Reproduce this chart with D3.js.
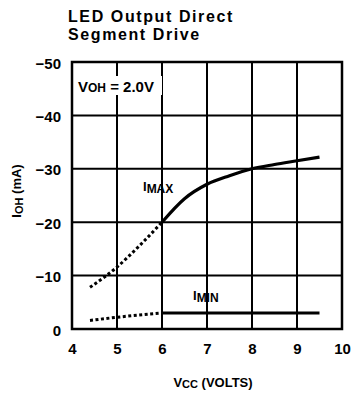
<!DOCTYPE html>
<html><head><meta charset="utf-8">
<script src="https://cdn.jsdelivr.net/npm/d3@7"></script>
<style>
body{margin:0;background:#fff;}
text{font-family:"Liberation Sans Narrow","Liberation Sans",Arial,sans-serif;font-weight:bold;fill:#000;}
</style></head>
<body><svg id="c" width="352" height="395"></svg>
<script>
const xTicks = [4,5,6,7,8,9,10];
const yTicks = [0,-10,-20,-30,-40,-50];
const imaxDottedV = [4.4, 5, 5.5, 6];
const imaxDottedI = [-7.8, -11.6, -15.6, -20];
const imaxSolidV = [6, 6.5, 7, 7.5, 8, 8.5, 9, 9.5];
const imaxSolidI = [-20, -24.4, -27.1, -28.7, -30, -30.8, -31.5, -32.2];
const iminDottedV = [4.4, 5, 6];
const iminDottedI = [-1.6, -2.2, -3];
const iminSolidV = [6, 9.5];
const iminSolidI = [-3, -3];

const svg = d3.select("#c");
const L=72,R=342,T=62,B=329;
const xs = d3.scaleLinear().domain([4,10]).range([L,R]);
const ys = d3.scaleLinear().domain([0,-50]).range([B,T]);

// title
const title = svg.append("g").attr("class","title");
title.append("text").attr("x",68).attr("y",22).attr("font-size",16).attr("letter-spacing",1.6)
 .style("font-family","'Liberation Sans',Arial,sans-serif").text("LED Output Direct");
title.append("text").attr("x",68).attr("y",39.5).attr("font-size",16).attr("letter-spacing",1.6)
 .style("font-family","'Liberation Sans',Arial,sans-serif").text("Segment Drive");

// grid
const gv = svg.append("g").attr("class","vgrid");
gv.selectAll("line.vx").data(xTicks).enter().append("line").attr("class","vx")
 .attr("x1",d=>xs(d)).attr("x2",d=>xs(d)).attr("y1",T).attr("y2",B)
 .attr("stroke","#000").attr("stroke-width",2);
const gh = svg.append("g").attr("class","hgrid");
gh.selectAll("line.hy").data(yTicks).enter().append("line").attr("class","hy")
 .attr("x1",L).attr("x2",R).attr("y1",d=>ys(d)).attr("y2",d=>ys(d))
 .attr("stroke","#000").attr("stroke-width",2);
svg.append("rect").attr("x",L).attr("y",T).attr("width",R-L).attr("height",B-T)
 .attr("fill","none").attr("stroke","#000").attr("stroke-width",2.5);

// axes labels
const xa = svg.append("g").attr("transform",`translate(0,${B})`)
 .call(d3.axisBottom(xs).tickValues(xTicks).tickSize(0).tickPadding(14).tickFormat(d3.format("d")));
xa.select(".domain").remove();
xa.selectAll("text").attr("font-size",15).attr("font-family",null).attr("font-weight","bold");
xa.attr("font-family",null);
const ya = svg.append("g").attr("transform",`translate(${L},0)`)
 .call(d3.axisLeft(ys).tickValues(yTicks).tickSize(0).tickPadding(11).tickFormat(d=>d===0?"0":"\u2212"+Math.abs(d)));
ya.select(".domain").remove();
ya.selectAll("text").attr("font-size",15).attr("font-weight","bold").attr("dy","0.4em");
ya.attr("font-family",null);

// VOH box
svg.append("rect").attr("x",76).attr("y",76).attr("width",86).attr("height",19).attr("fill","#fff");
const t1 = svg.append("text").attr("x",78).attr("y",92).attr("font-size",15);
t1.append("tspan").text("V");
t1.append("tspan").attr("font-size",12).text("OH");
t1.append("tspan").text(" = 2.0V");

// curves
const line = d3.line().x(d=>xs(d[0])).y(d=>ys(d[1])).curve(d3.curveMonotoneX);
function draw(vs, is, dotted){
  svg.append("path").datum(d3.zip(vs,is)).attr("d",line)
   .attr("fill","none").attr("stroke","#000")
   .attr("stroke-width",dotted?3:3.2)
   .attr("stroke-dasharray",dotted?"3,2.5":null);
}
draw(imaxDottedV, imaxDottedI, true);
draw(imaxSolidV, imaxSolidI, false);
draw(iminDottedV, iminDottedI, true);
draw(iminSolidV, iminSolidI, false);

// curve labels
const tm = svg.append("text").attr("x",143).attr("y",191).attr("font-size",13);
tm.append("tspan").text("I");
tm.append("tspan").attr("dy",2).attr("font-size",12).text("MAX");
const tn = svg.append("text").attr("x",193).attr("y",300).attr("font-size",13);
tn.append("tspan").text("I");
tn.append("tspan").attr("dy",2).attr("font-size",12).text("MIN");

// y title
const yt = svg.append("text").attr("transform","translate(21,191) rotate(-90)").attr("text-anchor","middle").attr("font-size",13);
yt.append("tspan").text("I");
yt.append("tspan").attr("font-size",11).attr("dy",2).text("OH");
yt.append("tspan").attr("dy",-2).text(" (mA)");

// x title
const xt = svg.append("text").attr("x",213).attr("y",387).attr("text-anchor","middle").attr("font-size",13);
xt.append("tspan").text("V");
xt.append("tspan").attr("font-size",11).attr("dy",1).text("CC");
xt.append("tspan").attr("dy",-1).text(" (VOLTS)");
</script></body></html>
